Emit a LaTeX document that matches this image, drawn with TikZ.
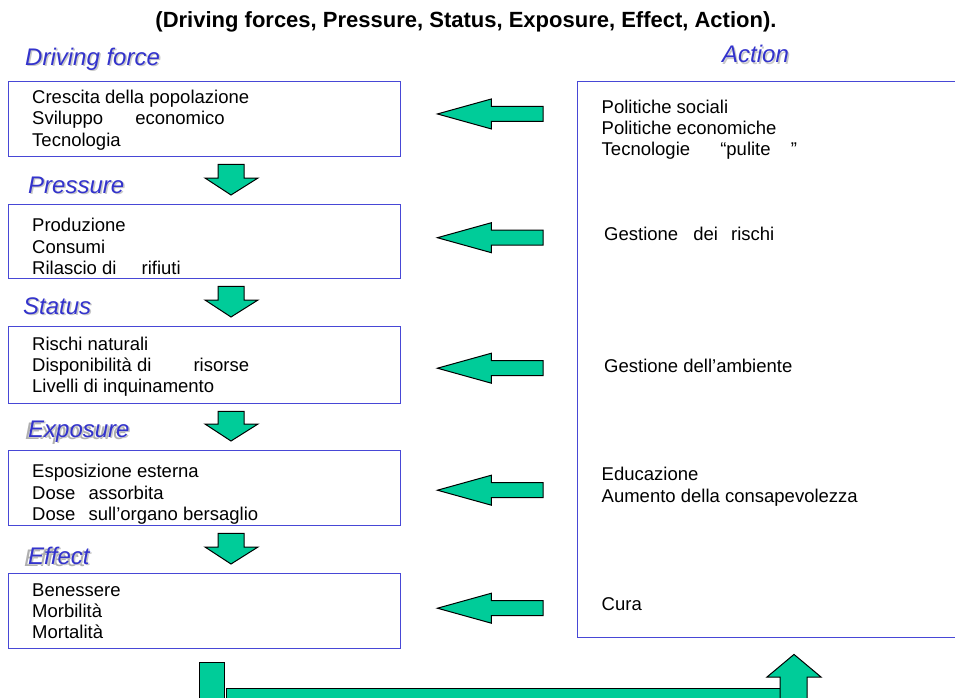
\documentclass[tikz,border=0pt]{standalone}
\usepackage{fontspec}
\setmainfont{Liberation Sans}
\usetikzlibrary{calc}

\definecolor{arrowgreen}{RGB}{0,204,153}
\definecolor{boxblue}{RGB}{72,72,214}
\definecolor{headblue}{RGB}{51,51,204}
\definecolor{shadowgrey}{RGB}{200,200,200}
\definecolor{ghostgrey}{RGB}{175,175,175}

\tikzset{
  panel/.style={draw=boxblue, line width=1.4pt, rectangle, inner sep=0pt, anchor=north west},
  % multi-line texts are placed by the baseline of their last line
  bodytext/.style={anchor=base west, align=left, inner sep=0pt,
    font=\fontsize{18.5}{21.3}\selectfont},
  headtext/.style={anchor=base west, inner sep=0pt, text=headblue,
    font=\fontsize{24}{28}\selectfont\itshape},
  headshadow/.style={headtext, text=shadowgrey},
  headghost/.style={headtext, text=ghostgrey},
  blockarrow/.style={fill=arrowgreen, draw=black, line width=1pt, line join=miter},
}

% heading with a soft drop shadow: name, x, y, text
\newcommand{\stagehead}[4]{%
  \node[headshadow] (#1-shadow) at (#2+1.5,#3+1.5) {#4};
  \node[headtext] (#1) at (#2,#3) {#4};
}

% green block arrow pointing down from one panel to the next
\newcommand{\flowdown}[2]{%
  \draw[blockarrow] let \p1=(#1.south), \p2=(#2.north) in
    (218pt,{\y1-7pt}) -- (244pt,{\y1-7pt}) -- (244pt,{\y2+26pt}) -- (258pt,{\y2+26pt})
    -- (231pt,{\y2+9pt}) -- (205pt,{\y2+26pt}) -- (218pt,{\y2+26pt}) -- cycle;
}

% green block arrow pointing left from the action panel: from, to, vertical shift
\newcommand{\flowleft}[3]{%
  \draw[blockarrow] let \p1=(#2.east), \p2=(#1.west) in
    ({\x1+36pt},{\y1+#3pt}) -- ({\x1+90pt},{\y1+#3pt+15pt}) -- ({\x1+90pt},{\y1+#3pt+7.5pt})
    -- ({\x2-34pt},{\y1+#3pt+7.5pt}) -- ({\x2-34pt},{\y1+#3pt-7.5pt})
    -- ({\x1+90pt},{\y1+#3pt-7.5pt}) -- ({\x1+90pt},{\y1+#3pt-15pt}) -- cycle;
}

\begin{document}
\begin{tikzpicture}[x=1pt,y=-1pt]
\useasboundingbox (0,0) rectangle (955,697);
\begin{scope}
\clip (0,0) rectangle (955,697);

% title
\node[anchor=base, inner sep=0pt, font=\fontsize{22}{26}\selectfont\bfseries] (title)
  at (466,27) {(Driving forces, Pressure, Status, Exposure, Effect, Action).};

% stage panels on the left
\node[panel, minimum width=392, minimum height=75.5] (df) at (8,80.5) {};
\node[panel, minimum width=392, minimum height=74]   (pr) at (8,204) {};
\node[panel, minimum width=392, minimum height=77]   (st) at (8,326) {};
\node[panel, minimum width=392, minimum height=75]   (ex) at (8,450) {};
\node[panel, minimum width=392, minimum height=75]   (ef) at (8,573) {};

% action panel, running off the right edge
\node[panel, minimum width=400, minimum height=556] (act) at (577,81) {};

% headings
\stagehead{dfhead}{25}{65}{Driving force}
\stagehead{prhead}{28}{193}{Pressure}
\stagehead{sthead}{23}{314}{Status}
\node[headghost] (exghost) at (25,439) {Exposure};
\stagehead{exhead}{28}{437}{Exposure}
\node[headghost] (efghost) at (24,566) {Effect};
\stagehead{efhead}{28}{564}{Effect}
\stagehead{acthead}{722}{62.5}{Action}

% panel contents
\node[bodytext] (dftext) at (32,146.1) {Crescita della popolazione\\
  Sviluppo\hspace{27pt} economico\\ Tecnologia};
\node[bodytext] (prtext) at (32,274.3) {Produzione\\ Consumi\\
  Rilascio di\hspace{20pt} rifiuti};
\node[bodytext] (sttext) at (32,392.6) {Rischi naturali\\
  Disponibilità di\hspace{37pt} risorse\\ Livelli di inquinamento};
\node[bodytext] (extext) at (32,520.3) {Esposizione esterna\\
  Dose\hspace{8pt} assorbita\\ Dose\hspace{8pt} sull’organo bersaglio};
\node[bodytext] (eftext) at (32,638.6) {Benessere\\ Morbilità\\ Mortalità};

\node[bodytext] (act1) at (601.5,155.9) {Politiche sociali\\ Politiche economiche\\
  Tecnologie\hspace{25pt} “pulite\hspace{15pt} ”};
\node[bodytext] (act2) at (604,240.5) {Gestione\hspace{10pt} dei\hspace{8pt} rischi};
\node[bodytext] (act3) at (604,372.5) {Gestione dell’ambiente};
\node[bodytext] (act4) at (601.5,502) {Educazione\\ Aumento della consapevolezza};
\node[bodytext] (act5) at (601.5,610) {Cura};

% downward flow between stages
\flowdown{df}{pr}
\flowdown{pr}{st}
\flowdown{st}{ex}
\flowdown{ex}{ef}

% actions feeding back on each stage
\flowleft{act}{df}{5}
\flowleft{act}{pr}{4}
\flowleft{act}{st}{-3}
\flowleft{act}{ex}{-2}
\flowleft{act}{ef}{3}

% return path from effects to actions
\draw[blockarrow] let \p1=(ef.south) in (199pt,{\y1-13pt}) rectangle (224pt,-710pt);
\draw[blockarrow] (226,688) rectangle (780,710);
\draw[blockarrow] let \p1=(act.south) in
  (780pt,-710pt) -- (780pt,-677pt) -- (767pt,-677pt) -- (794pt,{\y1-16pt})
  -- (821pt,-677pt) -- (807pt,-677pt) -- (807pt,-710pt) -- cycle;
\end{scope}
\end{tikzpicture}
\end{document}
